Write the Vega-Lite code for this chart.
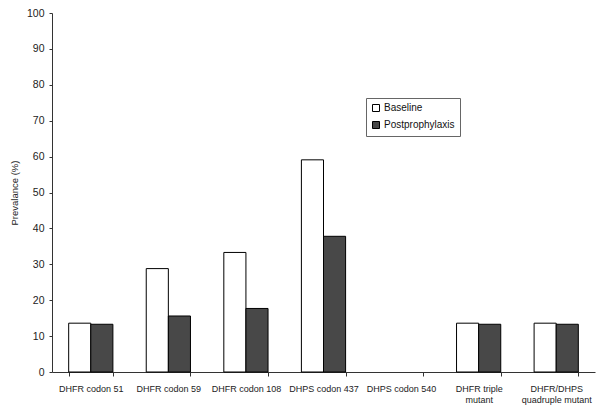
{
  "$schema": "https://vega.github.io/schema/vega-lite/v6.json",
  "width": 543,
  "height": 359,
  "autosize": {"type": "none"},
  "padding": {"left": 52, "top": 13, "right": 7, "bottom": 39},
  "background": "white",
  "config": {
    "view": {"stroke": null},
    "font": "Liberation Sans",
    "axis": {"grid": false, "domainColor": "#333", "tickColor": "#333", "labelColor": "#222", "titleColor": "#222", "labelFont": "Liberation Sans", "titleFont": "Liberation Sans", "titleFontWeight": "normal"}
  },
  "data": {
    "values": [
      {"category": "DHFR codon 51", "group": "Baseline", "value": 13.6},
      {"category": "DHFR codon 51", "group": "Postprophylaxis", "value": 13.3},
      {"category": "DHFR codon 59", "group": "Baseline", "value": 28.8},
      {"category": "DHFR codon 59", "group": "Postprophylaxis", "value": 15.6},
      {"category": "DHFR codon 108", "group": "Baseline", "value": 33.3},
      {"category": "DHFR codon 108", "group": "Postprophylaxis", "value": 17.7},
      {"category": "DHPS codon 437", "group": "Baseline", "value": 59.1},
      {"category": "DHPS codon 437", "group": "Postprophylaxis", "value": 37.8},
      {"category": "DHPS codon 540", "group": "Baseline", "value": 0},
      {"category": "DHPS codon 540", "group": "Postprophylaxis", "value": 0},
      {"category": "DHFR triple mutant", "group": "Baseline", "value": 13.6},
      {"category": "DHFR triple mutant", "group": "Postprophylaxis", "value": 13.3},
      {"category": "DHFR/DHPS quadruple mutant", "group": "Baseline", "value": 13.6},
      {"category": "DHFR/DHPS quadruple mutant", "group": "Postprophylaxis", "value": 13.3}
    ]
  },
  "mark": {"type": "bar", "strokeWidth": 1},
  "encoding": {
    "x": {
      "field": "category",
      "type": "nominal",
      "sort": null,
      "scale": {"paddingInner": 0.43, "paddingOuter": 0.215},
      "axis": {
        "title": null,
        "labelAngle": 0,
        "labelFontSize": 9,
        "labelPadding": 8,
        "tickSize": 4,
        "tickBand": "extent",
        "labelLineHeight": 11,
        "labelExpr": "datum.label == 'DHFR triple mutant' ? ['DHFR triple', 'mutant'] : datum.label == 'DHFR/DHPS quadruple mutant' ? ['DHFR/DHPS', 'quadruple mutant'] : datum.label"
      }
    },
    "xOffset": {"field": "group", "type": "nominal", "sort": ["Baseline", "Postprophylaxis"], "scale": {"paddingInner": 0, "paddingOuter": 0}},
    "y": {
      "field": "value",
      "type": "quantitative",
      "scale": {"domain": [0, 100]},
      "axis": {
        "title": "Prevalance (%)",
        "titleFontSize": 9.5,
        "titlePadding": 7,
        "labelFontSize": 10.5,
        "labelPadding": 5,
        "tickSize": 3,
        "values": [0, 10, 20, 30, 40, 50, 60, 70, 80, 90, 100]
      }
    },
    "stroke": {"condition": {"test": "datum.value > 0", "value": "black"}, "value": null},
    "fill": {
      "field": "group",
      "type": "nominal",
      "sort": ["Baseline", "Postprophylaxis"],
      "scale": {"domain": ["Baseline", "Postprophylaxis"], "range": ["#ffffff", "#484848"]},
      "legend": {
        "title": null,
        "orient": "none",
        "legendX": 314,
        "legendY": 85,
        "strokeColor": "#666",
        "padding": 5,
        "symbolType": "square",
        "symbolSize": 49,
        "symbolStrokeColor": "black",
        "symbolStrokeWidth": 1,
        "labelFontSize": 10,
        "labelOffset": 3,
        "labelColor": "#111",
        "rowPadding": 5,
        "fillColor": "white"
      }
    }
  }
}
